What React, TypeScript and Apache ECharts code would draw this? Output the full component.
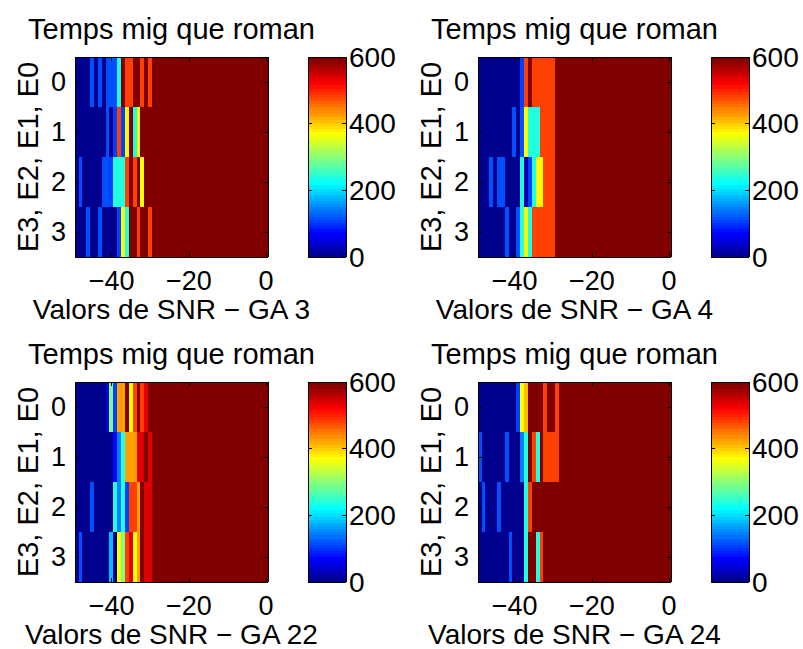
import React, { useEffect, useRef } from "react";
import * as echarts from "echarts";

// SNR sweep (dB) along the horizontal axis of every panel
const snrValues = [
  -49, -48, -47, -46, -45, -44, -43, -42, -41, -40,
  -39, -38, -37, -36, -35, -34, -33, -32, -31, -30,
  -29, -28, -27, -26, -25, -24, -23, -22, -21, -20,
  -19, -18, -17, -16, -15, -14, -13, -12, -11, -10,
  -9, -8, -7, -6, -5, -4, -3, -2, -1, 0,
];

// Rows: state value E3,E2,E1,E0 = 0..3
const stateLabels = ["0", "1", "2", "3"];

const colorbarTicks = [0, 200, 400, 600];

const panelTitles = [
  "Temps mig que roman",
  "Temps mig que roman",
  "Temps mig que roman",
  "Temps mig que roman",
];
const panelXLabels = [
  "Valors de SNR \u2212 GA 3",
  "Valors de SNR \u2212 GA 4",
  "Valors de SNR \u2212 GA 22",
  "Valors de SNR \u2212 GA 24",
];
const yAxisTitle = "E3, E2, E1, E0";

// Mean remaining time per (state, SNR) for GA 3
const ga3Rows = [
  [0, 0, 0, 0, 117, 0, 117, 0, 117, 117,
   117, 238, 600, 482, 482, 600, 600, 482, 600, 482,
   600, 600, 600, 600, 600, 600, 600, 600, 600, 600,
   600, 600, 600, 600, 600, 600, 600, 600, 600, 600,
   600, 600, 600, 600, 600, 600, 600, 600, 600, 600],
  [0, 0, 0, 0, 0, 0, 0, 0, 117, 0,
   108, 482, 108, 370, 600, 238, 370, 600, 600, 600,
   600, 600, 600, 600, 600, 600, 600, 600, 600, 600,
   600, 600, 600, 600, 600, 600, 600, 600, 600, 600,
   600, 600, 600, 600, 600, 600, 600, 600, 600, 600],
  [0, 117, 0, 0, 0, 0, 0, 117, 117, 108,
   238, 238, 238, 482, 600, 482, 600, 370, 600, 600,
   600, 600, 600, 600, 600, 600, 600, 600, 600, 600,
   600, 600, 600, 600, 600, 600, 600, 600, 600, 600,
   600, 600, 600, 600, 600, 600, 600, 600, 600, 600],
  [0, 0, 0, 117, 0, 0, 117, 0, 0, 0,
   0, 108, 370, 238, 600, 600, 482, 600, 600, 482,
   600, 600, 600, 600, 600, 600, 600, 600, 600, 600,
   600, 600, 600, 600, 600, 600, 600, 600, 600, 600,
   600, 600, 600, 600, 600, 600, 600, 600, 600, 600],
];

// GA 4
const ga4Rows = [
  [0, 0, 0, 0, 0, 0, 0, 0, 0, 0,
   0, 108, 482, 600, 482, 482, 482, 482, 482, 482,
   600, 600, 600, 600, 600, 600, 600, 600, 600, 600,
   600, 600, 600, 600, 600, 600, 600, 600, 600, 600,
   600, 600, 600, 600, 600, 600, 600, 600, 600, 600],
  [0, 0, 0, 0, 0, 0, 0, 0, 0, 117,
   0, 117, 370, 238, 238, 238, 482, 482, 482, 482,
   600, 600, 600, 600, 600, 600, 600, 600, 600, 600,
   600, 600, 600, 600, 600, 600, 600, 600, 600, 600,
   600, 600, 600, 600, 600, 600, 600, 600, 600, 600],
  [0, 0, 0, 117, 0, 117, 117, 0, 0, 0,
   0, 238, 20, 108, 238, 370, 370, 482, 482, 482,
   600, 600, 600, 600, 600, 600, 600, 600, 600, 600,
   600, 600, 600, 600, 600, 600, 600, 600, 600, 600,
   600, 600, 600, 600, 600, 600, 600, 600, 600, 600],
  [0, 0, 0, 0, 0, 0, 0, 117, 0, 0,
   117, 238, 370, 238, 482, 482, 482, 482, 482, 482,
   600, 600, 600, 600, 600, 600, 600, 600, 600, 600,
   600, 600, 600, 600, 600, 600, 600, 600, 600, 600,
   600, 600, 600, 600, 600, 600, 600, 600, 600, 600],
];

// GA 22
const ga22Rows = [
  [0, 0, 0, 0, 0, 0, 0, 0, 70, 295,
   108, 427, 427, 600, 370, 482, 600, 482, 539, 600,
   600, 600, 600, 600, 600, 600, 600, 600, 600, 600,
   600, 600, 600, 600, 600, 600, 600, 600, 600, 600,
   600, 600, 600, 600, 600, 600, 600, 600, 600, 600],
  [0, 0, 0, 0, 0, 0, 0, 0, 0, 0,
   70, 145, 238, 427, 427, 427, 539, 539, 600, 539,
   600, 600, 600, 600, 600, 600, 600, 600, 600, 600,
   600, 600, 600, 600, 600, 600, 600, 600, 600, 600,
   600, 600, 600, 600, 600, 600, 600, 600, 600, 600],
  [0, 0, 0, 0, 117, 0, 0, 0, 0, 0,
   238, 145, 238, 108, 482, 482, 427, 600, 539, 539,
   600, 600, 600, 600, 600, 600, 600, 600, 600, 600,
   600, 600, 600, 600, 600, 600, 600, 600, 600, 600,
   600, 600, 600, 600, 600, 600, 600, 600, 600, 600],
  [0, 117, 0, 0, 0, 0, 0, 0, 0, 183,
   0, 370, 295, 482, 539, 370, 427, 600, 539, 539,
   600, 600, 600, 600, 600, 600, 600, 600, 600, 600,
   600, 600, 600, 600, 600, 600, 600, 600, 600, 600,
   600, 600, 600, 600, 600, 600, 600, 600, 600, 600],
];

// GA 24
const ga24Rows = [
  [0, 0, 0, 0, 0, 0, 0, 0, 0, 0,
   108, 370, 408, 600, 600, 600, 600, 482, 600, 600,
   482, 600, 600, 600, 600, 600, 600, 600, 600, 600,
   600, 600, 600, 600, 600, 600, 600, 600, 600, 600,
   600, 600, 600, 600, 600, 600, 600, 600, 600, 600],
  [117, 0, 0, 0, 0, 0, 0, 117, 0, 0,
   0, 145, 238, 600, 482, 238, 600, 482, 482, 482,
   482, 600, 600, 600, 600, 600, 600, 600, 600, 600,
   600, 600, 600, 600, 600, 600, 600, 600, 600, 600,
   600, 600, 600, 600, 600, 600, 600, 600, 600, 600],
  [0, 117, 0, 0, 0, 117, 0, 0, 0, 0,
   0, 0, 238, 482, 600, 600, 600, 600, 600, 600,
   600, 600, 600, 600, 600, 600, 600, 600, 600, 600,
   600, 600, 600, 600, 600, 600, 600, 600, 600, 600,
   600, 600, 600, 600, 600, 600, 600, 600, 600, 600],
  [0, 0, 0, 0, 0, 0, 0, 0, 117, 0,
   0, 0, 238, 600, 600, 238, 482, 600, 600, 600,
   600, 600, 600, 600, 600, 600, 600, 600, 600, 600,
   600, 600, 600, 600, 600, 600, 600, 600, 600, 600,
   600, 600, 600, 600, 600, 600, 600, 600, 600, 600],
];

const panelData = [ga3Rows, ga4Rows, ga22Rows, ga24Rows];

// ---- layout / style ----
const FONT = "'Liberation Sans', Arial, Helvetica, sans-serif";
const TICK_FS = 27;
const TITLE_FS = 29;
const XLABEL_FS = 28;
const YLABEL_FS = 29;
const HEAT_W = 193;
const HEAT_H = 200;
const BAR_OFFSET = 233;
const BAR_W = 38;
const panelOrigins = [
  [75, 57],
  [478, 57],
  [75, 382],
  [478, 382],
];
const COLOR_LEVELS = 64;

// MATLAB-style jet colormap
function jetColors(n: number): string[] {
  const m = Math.ceil(n / 4);
  const u: number[] = [];
  for (let i = 1; i <= m; i++) u.push(i / m);
  for (let i = 1; i < m; i++) u.push(1);
  for (let i = m; i >= 1; i--) u.push(i / m);
  const g0 = Math.ceil(m / 2) - (n % 4 === 1 ? 1 : 0);
  const r = new Array(n).fill(0);
  const g = new Array(n).fill(0);
  const b = new Array(n).fill(0);
  u.forEach((val, k) => {
    const gi = g0 + k;
    const ri = gi + m;
    const bi = gi - m;
    if (gi >= 0 && gi < n) g[gi] = val;
    if (ri >= 0 && ri < n) r[ri] = val;
    if (bi >= 0 && bi < n) b[bi] = val;
  });
  const hex = (v: number) =>
    Math.round(v * 255)
      .toString(16)
      .padStart(2, "0");
  return r.map((_, i) => "#" + hex(r[i]) + hex(g[i]) + hex(b[i]));
}

export default function App() {
  const ref = useRef<HTMLDivElement>(null);

  useEffect(() => {
    if (!ref.current) return;
    const chart = echarts.init(ref.current, null, { renderer: "svg" });

    const cMin = colorbarTicks[0];
    const cMax = colorbarTicks[colorbarTicks.length - 1];
    const cStep = colorbarTicks[1] - colorbarTicks[0];
    const jet = jetColors(COLOR_LEVELS);
    const levelSize = (cMax - cMin) / COLOR_LEVELS;
    const pieces = jet.map((color, i) =>
      i < COLOR_LEVELS - 1
        ? { gte: cMin + i * levelSize, lt: cMin + (i + 1) * levelSize, color }
        : { gte: cMin + i * levelSize, lte: cMax, color }
    );
    const levelNames = jet.map((_, i) => String(i));
    const levelValues = jet.map((_, i) => cMin + (i + 0.5) * levelSize);

    const snrLabels = snrValues.map(String);
    const showSnr = (_: number, v: string) => Number(v) % 20 === 0;
    const black = { color: "#000", width: 1 };
    const tickStyle = { show: true, inside: true, length: 4, lineStyle: black };

    const grids: any[] = [];
    const xAxes: any[] = [];
    const yAxes: any[] = [];
    const series: any[] = [];
    const graphics: any[] = [];

    panelData.forEach((rows, s) => {
      const [left, top] = panelOrigins[s];

      const hg = grids.length;
      grids.push({ left, top, width: HEAT_W, height: HEAT_H });
      const cg = grids.length;
      grids.push({ left: left + BAR_OFFSET, top, width: BAR_W, height: HEAT_H });

      // heatmap axes
      const xb = xAxes.length;
      xAxes.push({
        gridIndex: hg,
        type: "category",
        data: snrLabels,
        position: "bottom",
        z: 10,
        axisLine: { show: true, onZero: false, lineStyle: black },
        axisTick: { ...tickStyle, alignWithLabel: true, interval: showSnr },
        axisLabel: {
          interval: showSnr,
          fontFamily: FONT,
          fontSize: TICK_FS,
          color: "#000",
          margin: 10,
          lineHeight: 27,
          formatter: (v: string) => v.replace("-", "\u2212"),
        },
        splitLine: { show: false },
      });
      xAxes.push({
        gridIndex: hg,
        type: "category",
        data: snrLabels,
        position: "top",
        z: 10,
        axisLine: { show: true, onZero: false, lineStyle: black },
        axisTick: { ...tickStyle, alignWithLabel: true, interval: showSnr },
        axisLabel: { show: false },
        splitLine: { show: false },
      });
      const yl = yAxes.length;
      yAxes.push({
        gridIndex: hg,
        type: "category",
        data: stateLabels,
        inverse: true,
        position: "left",
        z: 10,
        axisLine: { show: true, onZero: false, lineStyle: black },
        axisTick: { ...tickStyle, alignWithLabel: true },
        axisLabel: {
          fontFamily: FONT,
          fontSize: TICK_FS,
          color: "#000",
          margin: 9,
        },
        splitLine: { show: false },
      });
      yAxes.push({
        gridIndex: hg,
        type: "category",
        data: stateLabels,
        inverse: true,
        position: "right",
        z: 10,
        axisLine: { show: true, onZero: false, lineStyle: black },
        axisTick: { ...tickStyle, alignWithLabel: true },
        axisLabel: { show: false },
        splitLine: { show: false },
      });

      const cells: number[][] = [];
      rows.forEach((row, r) => row.forEach((v, c) => cells.push([c, r, v])));
      series.push({
        type: "heatmap",
        xAxisIndex: xb,
        yAxisIndex: yl,
        data: cells,
        silent: true,
        itemStyle: { borderWidth: 0 },
        emphasis: { disabled: true },
      });

      // colorbar axes
      const cx = xAxes.length;
      xAxes.push({
        gridIndex: cg,
        type: "category",
        data: [""],
        position: "bottom",
        z: 10,
        axisLine: { show: true, onZero: false, lineStyle: black },
        axisTick: { show: false },
        axisLabel: { show: false },
      });
      xAxes.push({
        gridIndex: cg,
        type: "category",
        data: [""],
        position: "top",
        z: 10,
        axisLine: { show: true, onZero: false, lineStyle: black },
        axisTick: { show: false },
        axisLabel: { show: false },
      });
      const cy = yAxes.length;
      yAxes.push({
        gridIndex: cg,
        type: "category",
        data: levelNames,
        show: false,
      });
      yAxes.push({
        gridIndex: cg,
        type: "value",
        min: cMin,
        max: cMax,
        interval: cStep,
        position: "right",
        z: 10,
        axisLine: { show: true, onZero: false, lineStyle: black },
        axisTick: tickStyle,
        axisLabel: {
          fontFamily: FONT,
          fontSize: 28,
          color: "#000",
          margin: 3,
        },
        splitLine: { show: false },
      });
      yAxes.push({
        gridIndex: cg,
        type: "value",
        min: cMin,
        max: cMax,
        interval: cStep,
        position: "left",
        z: 10,
        axisLine: { show: true, onZero: false, lineStyle: black },
        axisTick: tickStyle,
        axisLabel: { show: false },
        splitLine: { show: false },
      });
      series.push({
        type: "heatmap",
        xAxisIndex: cx,
        yAxisIndex: cy,
        data: levelValues.map((v, i) => [0, i, v]),
        silent: true,
        itemStyle: { borderWidth: 0 },
        emphasis: { disabled: true },
      });

      const textStyle = {
        fontFamily: FONT,
        fill: "#000",
        textAlign: "center",
        textVerticalAlign: "middle",
      };
      graphics.push({
        type: "text",
        x: left + HEAT_W / 2,
        y: top - 28,
        style: { ...textStyle, text: panelTitles[s], fontSize: TITLE_FS },
      });
      graphics.push({
        type: "text",
        x: left + HEAT_W / 2,
        y: top + 252,
        style: { ...textStyle, text: panelXLabels[s], fontSize: XLABEL_FS },
      });
      graphics.push({
        type: "text",
        x: left - 47,
        y: top + HEAT_H / 2,
        rotation: Math.PI / 2,
        style: { ...textStyle, text: yAxisTitle, fontSize: YLABEL_FS },
      });
    });

    chart.setOption({
      animation: false,
      backgroundColor: "#fff",
      grid: grids,
      xAxis: xAxes,
      yAxis: yAxes,
      visualMap: {
        type: "piecewise",
        show: false,
        dimension: 2,
        pieces,
      },
      series,
      graphic: graphics,
    });

    return () => chart.dispose();
  }, []);

  return (
    <>
      {/* keep adjacent heatmap cells seamless */}
      <style>{`.jet-panels svg path { shape-rendering: crispEdges; }`}</style>
      <div
        ref={ref}
        className="jet-panels"
        style={{ position: "fixed", left: 0, top: 0, width: 803, height: 649 }}
      />
    </>
  );
}
